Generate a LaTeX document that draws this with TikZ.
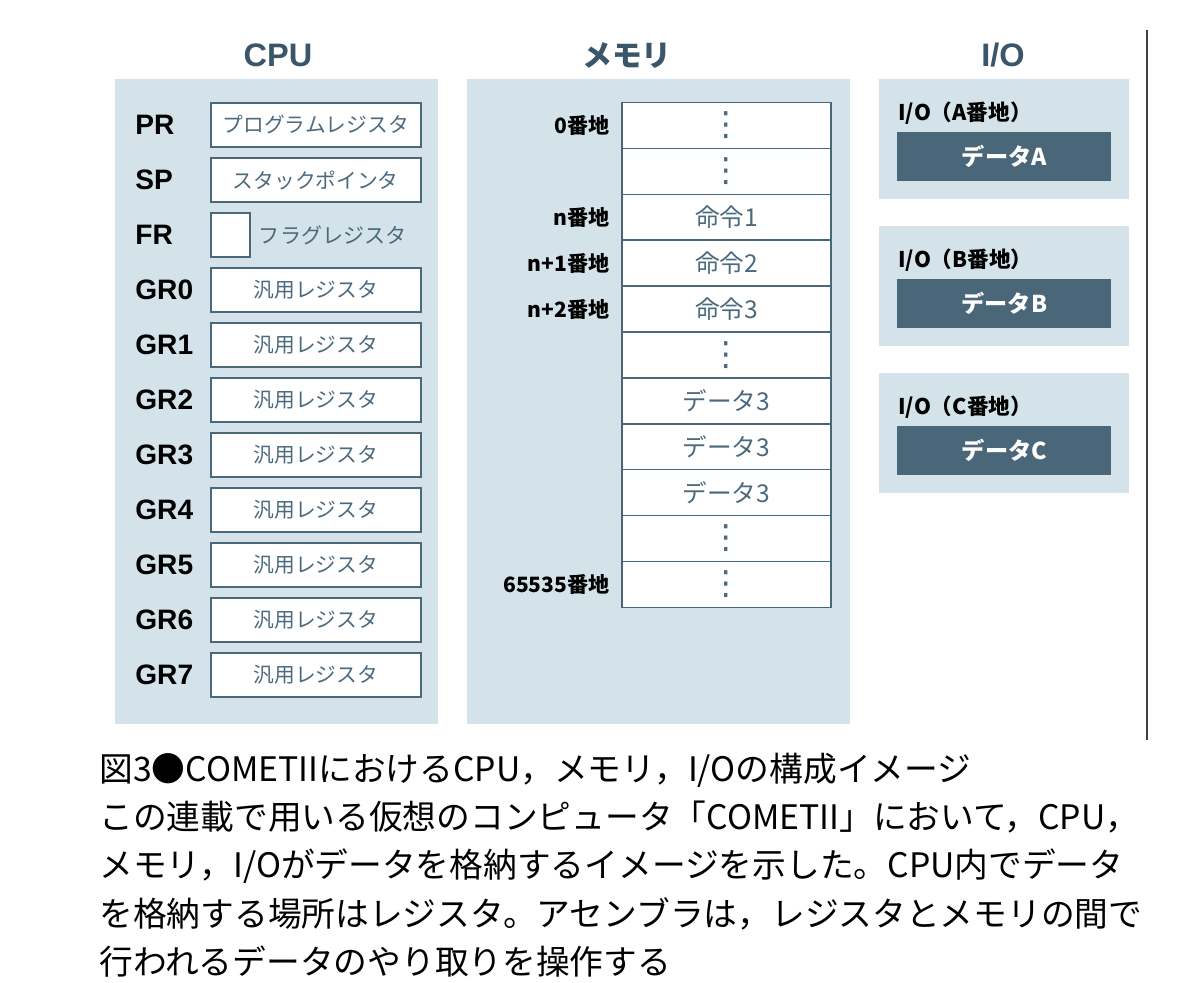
\documentclass[tikz,border=0pt]{standalone}
\usepackage{fontspec}
\setmainfont{Noto Sans CJK JP}
\newfontfamily\latinfont{Liberation Sans}
\newfontfamily\dotfont{DejaVu Sans}
\usetikzlibrary{positioning}

\definecolor{panelfill}{RGB}{211,227,233}
\definecolor{slate}{RGB}{74,104,122}
\definecolor{slatetext}{RGB}{76,106,126}
\definecolor{titlecol}{RGB}{58,86,104}
\definecolor{darkbox}{RGB}{73,103,121}

\newcommand{\vdotcell}{{\dotfont\fontsize{19}{20}\selectfont ⋮}}

\begin{document}
\begin{tikzpicture}[
    x=0.02cm, y=-0.02cm,
    panel/.style={fill=panelfill, inner sep=0pt, anchor=north west},
    title/.style={font=\latinfont\fontsize{18.5}{20}\selectfont\bfseries, text=titlecol},
    reglabel/.style={anchor=west, inner sep=0pt, font=\latinfont\fontsize{16}{18}\selectfont\bfseries},
    regbox/.style={draw=slate, line width=0.9pt, fill=white, anchor=west, minimum width=4.2cm, minimum height=0.88cm, font=\fontsize{11.8}{13}\selectfont, text=slatetext},
    cell/.style={draw=slate, line width=0.9pt, fill=white, outer sep=0pt, inner sep=0pt, minimum width=4.18cm, minimum height=0.918cm, font=\fontsize{14}{16}\selectfont, text=slatetext},
    addr/.style={inner sep=0pt, font=\fontsize{12}{13}\selectfont\bfseries},
    iolabel/.style={anchor=west, inner sep=0pt, font=\fontsize{12.3}{13}\selectfont\bfseries},
    databox/.style={fill=darkbox, anchor=north west, minimum width=4.28cm, minimum height=0.98cm, text=white, font=\fontsize{13.2}{15}\selectfont\bfseries},
    caption/.style={anchor=north west, inner sep=0pt, align=left, font=\fontsize{19.2}{27.4}\selectfont}
]
    \useasboundingbox (0,0) rectangle (1200,983);

    % panels
    \node[panel, minimum width=6.46cm, minimum height=12.9cm] (cpu) at (115,79) {};
    \node[panel, minimum width=7.66cm, minimum height=12.9cm] (mem) at (467,79) {};
    \node[title] (cputitle) at (278,55) {CPU};
    \node[title, font=\fontsize{17}{20}\selectfont\bfseries] (memtitle) at (627,55) {メモリ};
    \node[title] (iotitle) at (1003,55) {I/O};

    % CPU registers
    \node[reglabel] (prl) at (135,125) {PR};
    \node[regbox] (pr) at (210,125) {プログラムレジスタ};
    \node[reglabel] (spl) at (135,180) {SP};
    \node[regbox] (sp) at (210,180) {スタックポインタ};
    \node[reglabel] (frl) at (135,235) {FR};
    \node[regbox, minimum width=0.78cm] (fr) at (210,235) {};
    \node[anchor=west, inner sep=0pt, text=slatetext, font=\fontsize{12}{13}\selectfont, right=0.16cm of fr] (frtext) {フラグレジスタ};
    \foreach \i in {0,...,7} {
        \node[reglabel] (gr\i l) at (135,290+55*\i) {GR\i};
        \node[regbox] (gr\i) at (210,290+55*\i) {汎用レジスタ};
    }

    % memory cells
    \node[cell] (m1) at (726.5,125.5) {\vdotcell};
    \foreach \t [count=\i from 2, remember=\i as \j (initially 1)] in
        {\vdotcell, 命令1, 命令2, 命令3, \vdotcell, データ3, データ3, データ3, \vdotcell, \vdotcell}
        \node[cell, below=0pt of m\j] (m\i) {\t};
    \foreach \c/\a in {1/0番地, 3/n番地, 4/n+1番地, 5/n+2番地, 11/65535番地}
        \node[addr, left=0.24cm of m\c] (a\c) {\a};

    % I/O
    \foreach \l/\y in {A/79, B/226, C/373} {
        \node[panel, minimum width=5cm, minimum height=2.4cm] (io\l) at (879,\y) {};
        \node[iolabel] (iol\l) at (898,\y+34) {I/O（\l 番地）};
        \node[databox] (d\l) at (897,\y+53) {データ\l};
    }

    \draw[line width=1.2pt, black!75] (1147,30) -- (1147,740);

    % caption
    \node[caption] (cap) at (99,753) {図3●COMETIIにおけるCPU，メモリ，I/Oの構成イメージ\\
        この連載で用いる仮想のコンピュータ「COMETII」において，CPU，\\
        メモリ，I/Oがデータを格納するイメージを示した。CPU内でデータ\\
        を格納する場所はレジスタ。アセンブラは，レジスタとメモリの間で\\
        行われるデータのやり取りを操作する};
\end{tikzpicture}
\end{document}
